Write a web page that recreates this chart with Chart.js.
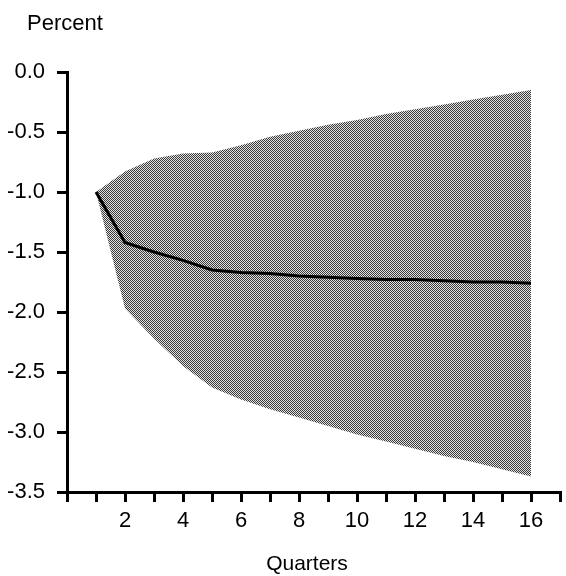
<!DOCTYPE html>
<html>
<head>
<meta charset="utf-8">
<script src="https://cdn.jsdelivr.net/npm/chart.js@4"></script>
<style>
  html, body { margin: 0; padding: 0; background: #fff; }
  #wrap { position: relative; width: 566px; height: 576px; }
</style>
</head>
<body>
<div id="wrap"><canvas id="chart" width="566" height="576"></canvas></div>
<script>
const quarters = [1, 2, 3, 4, 5, 6, 7, 8, 9, 10, 11, 12, 13, 14, 15, 16];
const response = [-1.0, -1.42, -1.5, -1.57, -1.65, -1.67, -1.68, -1.70, -1.71, -1.72, -1.73, -1.73, -1.74, -1.75, -1.75, -1.76];
const upperBand = [-1.0, -0.83, -0.72, -0.68, -0.67, -0.61, -0.54, -0.49, -0.44, -0.40, -0.35, -0.31, -0.27, -0.23, -0.19, -0.15];
const lowerBand = [-1.0, -1.97, -2.22, -2.45, -2.63, -2.73, -2.81, -2.88, -2.95, -3.02, -3.08, -3.14, -3.20, -3.25, -3.31, -3.37];
const yTicks = [0.0, -0.5, -1.0, -1.5, -2.0, -2.5, -3.0, -3.5];

const FONT = "'Liberation Sans', Arial, sans-serif";

function toPoints(values) {
    return quarters.map((q, i) => ({ x: q, y: values[i] }));
}

// halftone-like shading
function makeShade() {
    const c = document.createElement('canvas');
    c.width = 2;
    c.height = 2;
    const g = c.getContext('2d');
    g.fillStyle = '#e2e2e2';
    g.fillRect(0, 0, 2, 2);
    g.fillStyle = '#3a3a3a';
    g.fillRect(0, 0, 1, 1);
    g.fillRect(1, 1, 1, 1);
    return g.createPattern(c, 'repeat');
}

const labelsPlugin = {
    id: 'labels',
    afterDraw(chart) {
        const ctx = chart.ctx;
        ctx.save();
        ctx.fillStyle = '#000';
        ctx.textBaseline = 'alphabetic';
        ctx.font = '22px ' + FONT;
        ctx.textAlign = 'left';
        ctx.fillText('Percent', 27, 30);
        ctx.font = '21px ' + FONT;
        ctx.textAlign = 'center';
        ctx.fillText('Quarters', 307, 570);
        ctx.restore();
    }
};

Chart.defaults.color = '#000';
Chart.defaults.font.family = FONT;

const ctx = document.getElementById('chart').getContext('2d');
const shade = makeShade();

new Chart(ctx, {
    type: 'line',
    data: {
        datasets: [
            {
                label: 'Response',
                data: toPoints(response),
                borderColor: '#000',
                borderWidth: 3,
                pointRadius: 0,
                tension: 0,
                fill: false
            },
            {
                label: 'Upper',
                data: toPoints(upperBand),
                borderWidth: 0,
                borderColor: 'rgba(0,0,0,0)',
                backgroundColor: shade,
                pointRadius: 0,
                tension: 0,
                fill: '+1'
            },
            {
                label: 'Lower',
                data: toPoints(lowerBand),
                borderWidth: 0,
                borderColor: 'rgba(0,0,0,0)',
                pointRadius: 0,
                tension: 0,
                fill: false
            }
        ]
    },
    options: {
        responsive: false,
        animation: false,
        layout: { padding: { top: 72, right: 2, left: 0, bottom: 0 } },
        plugins: {
            legend: { display: false },
            tooltip: { enabled: false }
        },
        scales: {
            x: {
                type: 'linear',
                min: 0,
                max: 17,
                afterFit(scale) { scale.height = 84; },
                afterBuildTicks(scale) {
                    const t = [];
                    for (let i = 0; i <= 17; i++) t.push({ value: i });
                    scale.ticks = t;
                },
                border: { display: true, color: '#000', width: 3 },
                grid: {
                    drawOnChartArea: false,
                    drawTicks: true,
                    tickLength: 10,
                    color: '#000',
                    lineWidth: 3
                },
                ticks: {
                    autoSkip: false,
                    maxRotation: 0,
                    padding: 6,
                    font: { size: 22 },
                    callback: (v) => (v > 0 && v <= 16 && v % 2 === 0) ? String(v) : ''
                }
            },
            y: {
                type: 'linear',
                min: -3.5,
                max: 0,
                afterFit(scale) { scale.width = 67; },
                afterBuildTicks(scale) {
                    scale.ticks = yTicks.map(v => ({ value: v }));
                },
                border: { display: true, color: '#000', width: 3 },
                grid: {
                    drawOnChartArea: false,
                    drawTicks: true,
                    tickLength: 10,
                    color: '#000',
                    lineWidth: 3
                },
                ticks: {
                    padding: 12,
                    font: { size: 22 },
                    callback: (v) => Number(v).toFixed(1)
                }
            }
        }
    },
    plugins: [labelsPlugin]
});
</script>
</body>
</html>
